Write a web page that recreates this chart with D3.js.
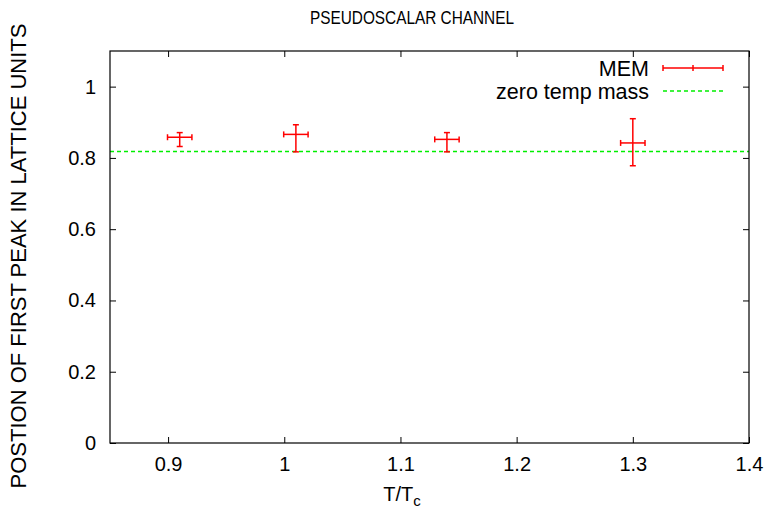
<!DOCTYPE html>
<html>
<head>
<meta charset="utf-8">
<script src="https://cdn.jsdelivr.net/npm/d3@7"></script>
<style>
  body { margin: 0; background: #fff; }
  text { font-family: "Liberation Sans", Arial, sans-serif; fill: #000; }
</style>
</head>
<body>
<svg id="chart" width="769" height="510"></svg>
<script>
// MEM peak positions, pseudoscalar channel
var tOverTc = [0.91, 1.01, 1.14, 1.30];
var tErr = [0.0105, 0.0105, 0.0105, 0.0105];
var peakPos = [0.858, 0.866, 0.852, 0.842];
var peakLow = [0.832, 0.817, 0.817, 0.778];
var peakHigh = [0.871, 0.893, 0.871, 0.910];
var zeroTempMass = 0.818;

var xTicks = [0.9, 1, 1.1, 1.2, 1.3, 1.4];
var yTicks = [0, 0.2, 0.4, 0.6, 0.8, 1];

var padL = 110, padR = 749, padT = 51, padB = 443;
var svg = d3.select('#chart');

var x = d3.scaleLinear().domain([0.85, 1.4]).range([padL, padR]);
var y = d3.scaleLinear().domain([0, 1.1]).range([padB, padT]);

var fs = 20;

// ticks: gnuplot style, inward and mirrored
var tl = 6;
svg.append('g').attr('transform', 'translate(0,' + padB + ')')
  .call(d3.axisBottom(x).tickValues(xTicks).tickSizeInner(-tl).tickSizeOuter(0).tickPadding(14).tickFormat(d3.format('')))
  .call(function(g) { g.select('.domain').remove(); g.selectAll('text').style('font-size', fs + 'px'); });
svg.append('g').attr('transform', 'translate(0,' + padT + ')')
  .call(d3.axisTop(x).tickValues(xTicks).tickSizeInner(-tl).tickSizeOuter(0).tickFormat(''))
  .call(function(g) { g.select('.domain').remove(); });
svg.append('g').attr('transform', 'translate(' + padL + ',0)')
  .call(d3.axisLeft(y).tickValues(yTicks).tickSizeInner(-tl).tickSizeOuter(0).tickPadding(14).tickFormat(d3.format('')))
  .call(function(g) { g.select('.domain').remove(); g.selectAll('text').style('font-size', fs + 'px'); });
svg.append('g').attr('transform', 'translate(' + padR + ',0)')
  .call(d3.axisRight(y).tickValues(yTicks).tickSizeInner(-tl).tickSizeOuter(0).tickFormat(''))
  .call(function(g) { g.select('.domain').remove(); });
svg.selectAll('.tick line').attr('stroke', '#000');

// zero temperature mass line
svg.append('line')
  .attr('x1', x(0.85)).attr('x2', x(1.4))
  .attr('y1', y(zeroTempMass)).attr('y2', y(zeroTempMass))
  .attr('stroke', '#00ee00').attr('stroke-width', 1.3).attr('stroke-dasharray', '4,3');

// error bars
var pts = tOverTc.map(function(t, i) {
  return { x: t, dx: tErr[i], y: peakPos[i], lo: peakLow[i], hi: peakHigh[i] };
});
var cap = 3;
var eb = svg.append('g').attr('stroke', '#ff0000').attr('stroke-width', 1.5);
pts.forEach(function(p) {
  var cx = x(p.x), cy = y(p.y);
  var x0 = x(p.x - p.dx), x1 = x(p.x + p.dx);
  var y0 = y(p.lo), y1 = y(p.hi);
  eb.append('line').attr('x1', x0).attr('x2', x1).attr('y1', cy).attr('y2', cy);
  eb.append('line').attr('x1', cx).attr('x2', cx).attr('y1', y0).attr('y2', y1);
  eb.append('line').attr('x1', x0).attr('x2', x0).attr('y1', cy - cap).attr('y2', cy + cap);
  eb.append('line').attr('x1', x1).attr('x2', x1).attr('y1', cy - cap).attr('y2', cy + cap);
  eb.append('line').attr('x1', cx - cap).attr('x2', cx + cap).attr('y1', y0).attr('y2', y0);
  eb.append('line').attr('x1', cx - cap).attr('x2', cx + cap).attr('y1', y1).attr('y2', y1);
});

// frame
svg.append('rect').attr('x', padL).attr('y', padT)
  .attr('width', padR - padL).attr('height', padB - padT)
  .attr('fill', 'none').attr('stroke', '#000').attr('stroke-width', 1.2);

// legend
var lx0 = 663, lx1 = 723;
svg.append('text').attr('x', 649).attr('y', 68).attr('dy', '0.35em')
  .attr('text-anchor', 'end').style('font-size', '21.5px').text('MEM');
var lg = svg.append('g').attr('stroke', '#ff0000').attr('stroke-width', 1.5);
lg.append('line').attr('x1', lx0).attr('x2', lx1).attr('y1', 68).attr('y2', 68);
[lx0, (lx0 + lx1) / 2, lx1].forEach(function(v) {
  lg.append('line').attr('x1', v).attr('x2', v).attr('y1', 65).attr('y2', 71);
});
svg.append('text').attr('x', 649).attr('y', 91).attr('dy', '0.35em')
  .attr('text-anchor', 'end').style('font-size', '21.5px').text('zero temp mass');
svg.append('line').attr('x1', lx0).attr('x2', lx1).attr('y1', 91).attr('y2', 91)
  .attr('stroke', '#00ee00').attr('stroke-width', 1.3).attr('stroke-dasharray', '4,3');

// title, slightly condensed like the original
svg.append('text').attr('x', 310).attr('y', 18).attr('dy', '0.35em')
  .attr('textLength', 204).attr('lengthAdjust', 'spacingAndGlyphs')
  .style('font-size', '18px').text('PSEUDOSCALAR CHANNEL');

var xl = svg.append('text').attr('x', 402).attr('y', 501)
  .attr('text-anchor', 'middle').style('font-size', fs + 'px');
xl.append('tspan').text('T/T');
xl.append('tspan').attr('dy', 5).style('font-size', '15px').text('c');

svg.append('text').attr('transform', 'translate(18,' + 256 + ') rotate(-90)')
  .attr('dy', '0.35em').attr('text-anchor', 'middle').style('font-size', '22px')
  .text('POSTION OF FIRST PEAK IN LATTICE UNITS');
</script>
</body>
</html>
